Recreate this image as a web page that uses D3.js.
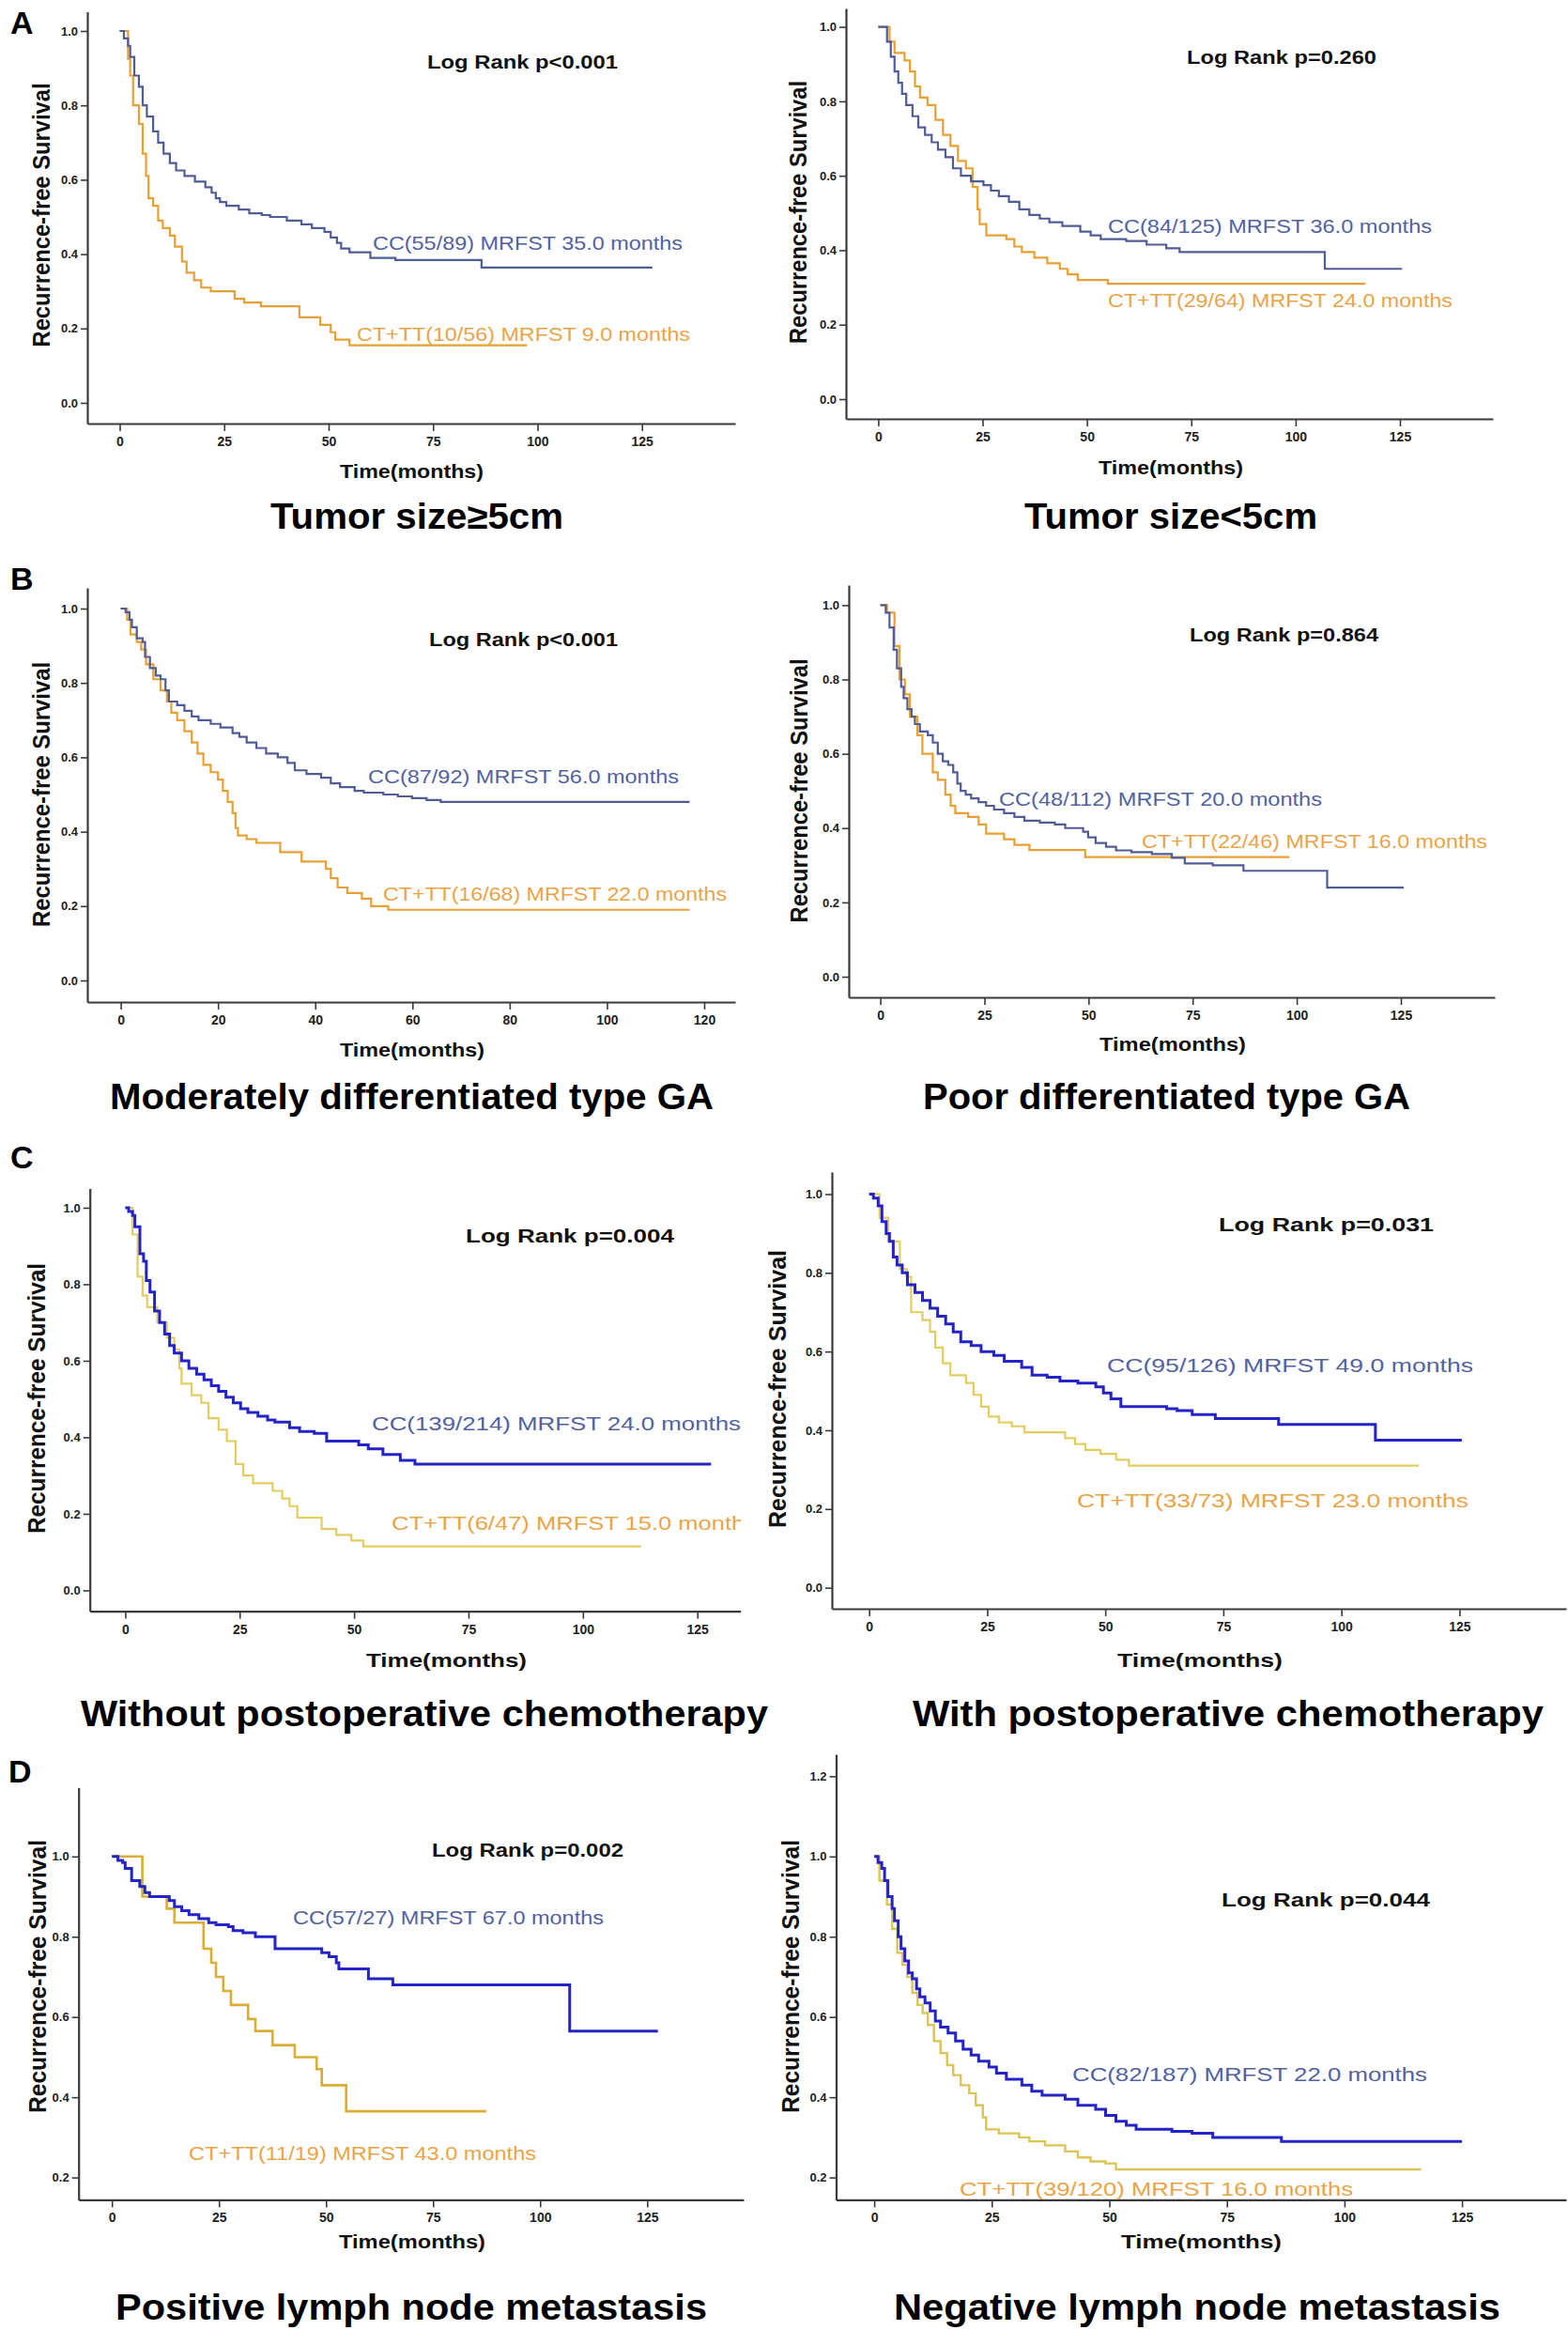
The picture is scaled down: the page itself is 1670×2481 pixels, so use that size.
<!DOCTYPE html>
<html>
<head>
<meta charset="utf-8">
<script src="https://cdn.jsdelivr.net/npm/d3@7"></script>
<style>
  html, body { margin: 0; padding: 0; background: #ffffff; }
  svg { display: block; font-family: "Liberation Sans", Arial, Helvetica, sans-serif; }
</style>
</head>
<body>
<svg id="chart" width="1670" height="2481"></svg>
<script>
// ---------------- DATA (months, recurrence-free survival) ----------------
const aLeftCC = [[0,1],[1,0.98],[2,0.96],[2.5,0.93],[3.5,0.88],[4.6,0.85],[5.5,0.80],[6.5,0.77],[8,0.73],[9.2,0.70],[10.5,0.67],[12,0.645],[13.5,0.625],[15.5,0.61],[18,0.595],[20.5,0.58],[22,0.565],[23,0.55],[24,0.54],[25.5,0.53],[28.5,0.52],[31,0.51],[34,0.505],[36,0.50],[40,0.49],[43.5,0.48],[46,0.47],[49,0.46],[50.5,0.445],[52,0.43],[53,0.415],[55,0.405],[60,0.39],[66,0.384],[86.6,0.364],[127.5,0.364]];
const aLeftCT = [[0,1],[2,0.925],[2.5,0.88],[3.2,0.80],[4.6,0.75],[5.5,0.67],[6.3,0.61],[6.9,0.55],[8,0.53],[9.2,0.49],[10.3,0.47],[12,0.45],[13.2,0.42],[14.9,0.38],[16,0.35],[17.8,0.33],[19.5,0.31],[21.8,0.30],[27.5,0.28],[29.8,0.27],[33.8,0.26],[43,0.23],[48,0.21],[50.5,0.19],[51.6,0.17],[55,0.155],[97.5,0.155]];
const aRightCC = [[0,1],[2.1,0.96],[3,0.92],[3.9,0.88],[4.8,0.85],[5.7,0.82],[6.7,0.79],[8.2,0.76],[9.6,0.73],[11.2,0.71],[12.8,0.69],[14.3,0.67],[16.1,0.65],[17.9,0.62],[19.8,0.60],[22.2,0.585],[25.2,0.575],[27,0.56],[28.9,0.545],[31.3,0.53],[33.8,0.51],[36.2,0.495],[38.7,0.485],[41,0.475],[44.1,0.465],[48.4,0.45],[50.9,0.44],[53.3,0.43],[59.4,0.425],[64.3,0.415],[69,0.405],[72.2,0.395],[107,0.35],[125.5,0.35]];
const aRightCT = [[0,1],[2.7,0.96],[3.9,0.93],[6.3,0.91],[7.6,0.88],[8.8,0.84],[10,0.81],[11.8,0.79],[13.7,0.75],[15.5,0.71],[17.3,0.68],[19.1,0.64],[21,0.62],[22.6,0.57],[23.8,0.51],[24.3,0.47],[25.9,0.44],[30.7,0.43],[32.6,0.41],[34.4,0.395],[37.4,0.38],[40.5,0.365],[43.5,0.35],[45.4,0.335],[47.8,0.32],[55,0.31],[116.7,0.31]];
const bLeftCC = [[0,1],[1,0.99],[1.8,0.97],[2.3,0.95],[3.3,0.92],[4.5,0.91],[5,0.87],[6,0.84],[7.2,0.82],[8.2,0.81],[9.2,0.78],[9.9,0.75],[11.6,0.74],[13.1,0.725],[14.6,0.71],[16,0.70],[18.5,0.69],[20.5,0.68],[23,0.665],[24.4,0.655],[25.9,0.64],[27.9,0.625],[29.9,0.61],[32.3,0.60],[34.3,0.585],[35.8,0.565],[38.2,0.555],[41.2,0.545],[43.2,0.53],[45.1,0.52],[48.1,0.51],[50,0.505],[54,0.50],[57,0.495],[59.9,0.49],[62.9,0.485],[65.8,0.48],[117,0.48]];
const bLeftCT = [[0,1],[1.3,0.97],[2,0.93],[3.3,0.91],[4.2,0.89],[5.2,0.85],[6.7,0.81],[8.2,0.78],[9.5,0.75],[10.4,0.72],[11.6,0.70],[13.1,0.67],[14.6,0.64],[15.8,0.61],[17,0.58],[18.5,0.56],[20,0.54],[21,0.51],[22,0.48],[23,0.45],[23.6,0.41],[24.1,0.39],[25.9,0.38],[27.9,0.37],[32.8,0.345],[37.2,0.32],[42.2,0.30],[43.2,0.275],[44.6,0.25],[46.6,0.235],[49.6,0.22],[51.5,0.20],[55,0.19],[117,0.19]];
const bRightCC = [[0,1],[1.3,0.98],[2.2,0.94],[3.2,0.88],[4,0.83],[5,0.78],[5.6,0.75],[6.5,0.72],[7.5,0.70],[8.3,0.68],[9.5,0.66],[11.4,0.65],[12.6,0.63],[13.8,0.60],[15,0.58],[16.3,0.57],[17.5,0.55],[18.5,0.52],[19.3,0.50],[20.5,0.49],[21.8,0.48],[23.6,0.47],[25.4,0.46],[27.3,0.45],[29.7,0.44],[32.2,0.43],[34.6,0.42],[38.3,0.415],[41.9,0.41],[44.4,0.40],[48.7,0.39],[49.9,0.375],[51.7,0.36],[54.2,0.35],[56.6,0.34],[60.3,0.335],[65.2,0.33],[70,0.32],[73.1,0.305],[79.8,0.30],[87.2,0.285],[107.3,0.24],[125.7,0.24]];
const bRightCT = [[0,1],[1.6,0.98],[3.4,0.89],[4.6,0.80],[5.9,0.76],[7.1,0.70],[8.9,0.65],[10.1,0.60],[12.6,0.55],[13.8,0.53],[15.6,0.49],[16.9,0.46],[18,0.44],[21.1,0.43],[23.6,0.41],[25.4,0.385],[29.7,0.37],[32.2,0.355],[35.8,0.341],[49.2,0.322],[98.2,0.322]];
const cLeftCC = [[0,1],[0.75,0.99],[1.6,0.98],[2.1,0.95],[3.2,0.88],[4,0.86],[4.6,0.81],[5.4,0.78],[6.4,0.73],[7.5,0.70],[8.6,0.67],[9.7,0.64],[10.7,0.62],[12.3,0.60],[13.9,0.58],[15.6,0.565],[17.2,0.55],[18.8,0.535],[20.4,0.52],[22,0.505],[23.6,0.49],[25.2,0.475],[26.8,0.465],[29,0.455],[31.1,0.445],[32.7,0.44],[35.9,0.425],[38.1,0.415],[41.3,0.41],[44,0.39],[51,0.38],[53.1,0.37],[56.3,0.355],[60.1,0.34],[63.3,0.33],[128,0.33]];
const cLeftCT = [[0,1],[1.6,0.93],[2.7,0.82],[3.8,0.77],[4.8,0.74],[7,0.70],[9.1,0.66],[10.7,0.63],[11.8,0.58],[12.3,0.54],[14.5,0.51],[16.6,0.49],[18.2,0.45],[20.4,0.42],[22.2,0.39],[24.1,0.33],[25.8,0.30],[27.9,0.28],[32.2,0.26],[34.3,0.24],[35.9,0.22],[37.6,0.19],[42.9,0.16],[46.1,0.145],[49.4,0.13],[52,0.115],[112.7,0.115]];
const cRightCC = [[0,1],[0.9,0.99],[1.9,0.97],[2.7,0.93],[3.6,0.90],[4.3,0.88],[5.1,0.84],[5.9,0.82],[7,0.80],[8.1,0.77],[9.7,0.75],[11.3,0.73],[12.9,0.71],[14.5,0.69],[16.2,0.67],[17.8,0.65],[19.4,0.625],[21.6,0.615],[23.7,0.60],[26.4,0.59],[28.6,0.575],[32.3,0.56],[34.5,0.54],[37.7,0.535],[40.4,0.525],[44.2,0.52],[48,0.51],[49.6,0.495],[51.2,0.48],[53.3,0.46],[63,0.455],[65.2,0.45],[68.4,0.44],[73.3,0.43],[86.7,0.415],[107.2,0.375],[125.5,0.375]];
const cRightCT = [[0,1],[2.2,0.94],[4,0.88],[6.5,0.81],[7.9,0.79],[8.9,0.70],[11.3,0.68],[12.9,0.65],[14,0.61],[15.6,0.57],[17.2,0.54],[20.5,0.52],[22.1,0.49],[23.7,0.46],[25.3,0.435],[27.5,0.42],[30.2,0.41],[32.9,0.395],[41.5,0.38],[43.6,0.365],[45.8,0.35],[49,0.34],[52.3,0.325],[55,0.31],[116.4,0.31]];
const dLeftCC = [[0,1],[1.4,0.99],[2.5,0.985],[3.1,0.97],[4.6,0.94],[6.5,0.925],[7.7,0.91],[8.8,0.90],[13.4,0.89],[14.6,0.875],[16.3,0.865],[18,0.855],[20.3,0.845],[22.6,0.835],[24.3,0.83],[27.2,0.825],[28.3,0.815],[30.6,0.81],[33.5,0.80],[38.1,0.77],[49,0.76],[50.7,0.75],[52.4,0.735],[53,0.72],[59.9,0.695],[65.6,0.68],[106.9,0.565],[127.5,0.565]];
const dLeftCT = [[0,1],[7.1,0.90],[12.8,0.87],[14.6,0.835],[21.4,0.77],[23.2,0.735],[24.3,0.70],[26,0.665],[27.8,0.63],[31.8,0.595],[33.5,0.565],[37.5,0.53],[42.7,0.50],[47.8,0.47],[49,0.43],[54.7,0.365],[87.4,0.365]];
const dRightCC = [[0,1],[0.8,0.985],[1.6,0.97],[2.2,0.94],[2.9,0.90],[3.8,0.87],[4.3,0.84],[5.1,0.80],[5.7,0.77],[6.5,0.74],[7.3,0.71],[8.1,0.695],[9,0.67],[9.7,0.65],[10.8,0.635],[11.9,0.615],[13,0.59],[14.1,0.575],[15.7,0.56],[17.3,0.54],[18.9,0.52],[20.6,0.505],[22.2,0.49],[24.4,0.475],[26,0.46],[28.1,0.445],[31.4,0.43],[33.5,0.415],[35.7,0.405],[40.6,0.395],[43.3,0.38],[47.1,0.37],[49.2,0.355],[51.4,0.34],[53.6,0.33],[55.7,0.32],[63.3,0.315],[67.6,0.31],[72,0.30],[86.6,0.29],[125,0.29]];
const dRightCT = [[0,1],[1.1,0.94],[2.7,0.88],[3.8,0.82],[4.9,0.76],[6,0.73],[7,0.70],[8.1,0.66],[9.2,0.63],[10.3,0.61],[11.4,0.58],[12.7,0.54],[14.1,0.51],[15.5,0.48],[16.8,0.455],[18.4,0.43],[20.2,0.41],[21.6,0.38],[23.1,0.35],[23.8,0.32],[26.5,0.31],[30.8,0.30],[33,0.29],[36.3,0.28],[40.6,0.265],[43.3,0.25],[46,0.24],[49.2,0.235],[51.4,0.22],[116.3,0.22]];

// tick values
const xTicks125 = [0, 25, 50, 75, 100, 125];
const xTicks120 = [0, 20, 40, 60, 80, 100, 120];
const yTicks10 = [0.0, 0.2, 0.4, 0.6, 0.8, 1.0];
const yTicksD = [0.2, 0.4, 0.6, 0.8, 1.0];
const yTicksD12 = [0.2, 0.4, 0.6, 0.8, 1.0, 1.2];

// texts
const panelLetters = ["A", "B", "C", "D"];
const titles = ["Tumor size≥5cm", "Tumor size<5cm", "Moderately differentiated type GA", "Poor differentiated type GA",
  "Without postoperative chemotherapy", "With postoperative chemotherapy", "Positive lymph node metastasis", "Negative lymph node metastasis"];
const logRanks = ["Log Rank p<0.001", "Log Rank p=0.260", "Log Rank p<0.001", "Log Rank p=0.864",
  "Log Rank p=0.004", "Log Rank p=0.031", "Log Rank p=0.002", "Log Rank p=0.044"];
const ccLabels = ["CC(55/89) MRFST 35.0 months", "CC(84/125) MRFST 36.0 months", "CC(87/92) MRFST 56.0 months", "CC(48/112) MRFST 20.0 months",
  "CC(139/214) MRFST 24.0 months", "CC(95/126) MRFST 49.0 months", "CC(57/27) MRFST 67.0 months", "CC(82/187) MRFST 22.0 months"];
const ctLabels = ["CT+TT(10/56) MRFST 9.0 months", "CT+TT(29/64) MRFST 24.0 months", "CT+TT(16/68) MRFST 22.0 months", "CT+TT(22/46) MRFST 16.0 months",
  "CT+TT(6/47) MRFST 15.0 months", "CT+TT(33/73) MRFST 23.0 months", "CT+TT(11/19) MRFST 43.0 months", "CT+TT(39/120) MRFST 16.0 months"];
const yTitle = "Recurrence-free Survival";
const xTitle = "Time(months)";

// ---------------- LAYOUT (pixels) ----------------
const layouts = [
  { ax: 93, yTop: 12.5, yBot: 451, xEnd: 783, tRef: 125, px0: 127.5, pxRef: 683.7, sA: 0, pyA: 429, sB: 1, pyB: 33,
    xt: xTicks125, yt: yTicks10, lr: [455, 658, 66], cc: [397, 727, 258], ct: [380, 735, 355], tm: [362, 515, 502],
    ti: [288, 600, 563], yl: [44, 229, 281], ccCol: "#505c96", ctCol: "#e8a033", ccW: 2.2, ctW: 2.2 },
  { ax: 901, yTop: 9, yBot: 446, xEnd: 1590, tRef: 125, px0: 935.4, pxRef: 1491, sA: 0, pyA: 425, sB: 1, pyB: 28.6,
    xt: xTicks125, yt: yTicks10, lr: [1264, 1466, 61], cc: [1180, 1525, 240], ct: [1180, 1547, 319], tm: [1170, 1324, 498],
    ti: [1091, 1403, 563], yl: [850, 226, 280], ccCol: "#505c96", ctCol: "#e8a033", ccW: 2.2, ctW: 2.2 },
  { ax: 93, yTop: 626, yBot: 1067, xEnd: 783, tRef: 120, px0: 128.6, pxRef: 750, sA: 0, pyA: 1044, sB: 1, pyB: 648,
    xt: xTicks120, yt: yTicks10, lr: [457, 658, 681], cc: [392, 723, 826], ct: [408, 774, 951], tm: [362, 516, 1118],
    ti: [117, 760, 1181], yl: [44, 846, 282], ccCol: "#505c96", ctCol: "#e8a033", ccW: 2.2, ctW: 2.2 },
  { ax: 904, yTop: 623, yBot: 1062, xEnd: 1592, tRef: 125, px0: 937.6, pxRef: 1492, sA: 0, pyA: 1040, sB: 1, pyB: 644.4,
    xt: xTicks125, yt: yTicks10, lr: [1267, 1468, 676], cc: [1064, 1408, 850], ct: [1216, 1584, 895], tm: [1171, 1327, 1112],
    ti: [983, 1502, 1181], yl: [851, 842, 281], ccCol: "#505c96", ctCol: "#e8a033", ccW: 2.2, ctW: 2.2 },
  { ax: 95.7, yTop: 1265.6, yBot: 1715.6, xEnd: 788.7, tRef: 125, px0: 133.4, pxRef: 742.7, sA: 0, pyA: 1693.4, sB: 1, pyB: 1286,
    xt: xTicks125, yt: yTicks10, lr: [496, 718, 1316], cc: [396, 789, 1515.6], ct: [417, 806, 1621], tm: [390, 561, 1768],
    ti: [86, 818, 1838], yl: [38.5, 1489, 288], ccCol: "#2424c6", ctCol: "#e4cd5e", ccW: 3, ctW: 2.2, clipX: 789 },
  { ax: 886, yTop: 1248, yBot: 1713, xEnd: 1668, tRef: 125, px0: 925.7, pxRef: 1554.4, sA: 0, pyA: 1690.6, sB: 1, pyB: 1271.5,
    xt: xTicks125, yt: yTicks10, lr: [1298, 1527, 1304], cc: [1179, 1569, 1453], ct: [1147, 1564, 1597], tm: [1190, 1366, 1768],
    ti: [972, 1644, 1838], yl: [828, 1479, 296], ccCol: "#2424c6", ctCol: "#e4cd5e", ccW: 3, ctW: 2.2 },
  { ax: 83.7, yTop: 1903.6, yBot: 2342.4, xEnd: 792, tRef: 125, px0: 119.2, pxRef: 689.3, sA: 0.2, pyA: 2318.6, sB: 1, pyB: 1976.8,
    xt: xTicks125, yt: yTicksD, lr: [460, 664, 1970], cc: [312, 643, 2041], ct: [201, 571, 2292], tm: [361, 517, 2387],
    ti: [123, 753, 2470], yl: [40, 2104.5, 291], ccCol: "#2424c6", ctCol: "#d9ad36", ccW: 3, ctW: 2.6 },
  { ax: 890.5, yTop: 1868, yBot: 2342.4, xEnd: 1668, tRef: 125, px0: 931.1, pxRef: 1557.1, sA: 0.2, pyA: 2318.6, sB: 1, pyB: 1976.8,
    xt: xTicks125, yt: yTicksD12, lr: [1301, 1523, 2023], cc: [1142, 1520, 2208.5], ct: [1022, 1441, 2330.5], tm: [1194, 1365, 2387],
    ti: [952, 1598, 2470], yl: [842, 2104.5, 291], ccCol: "#2424c6", ctCol: "#dcc455", ccW: 3, ctW: 2.4 }
];
const seriesData = [[aLeftCC, aLeftCT], [aRightCC, aRightCT], [bLeftCC, bLeftCT], [bRightCC, bRightCT],
  [cLeftCC, cLeftCT], [cRightCC, cRightCT], [dLeftCC, dLeftCT], [dRightCC, dRightCT]];
const letterPos = [[11, 36], [11, 628], [11, 1244], [9, 1898]];

const ccTextColor = "#52619f";
const ctTextColor = "#e9a447";
const axisColor = "#3a3a3a";

const svg = d3.select("#chart");
svg.append("rect").attr("width", 1670).attr("height", 2481).attr("fill", "#ffffff");

function fitText(g, str, x0, x1, cy, size, weight, color) {
  return g.append("text")
    .attr("x", x0).attr("y", cy)
    .attr("dominant-baseline", "central")
    .attr("font-size", size).attr("font-weight", weight)
    .attr("fill", color)
    .attr("textLength", x1 - x0).attr("lengthAdjust", "spacingAndGlyphs")
    .text(str);
}

layouts.forEach((L, i) => {
  const g = svg.append("g");
  // scales through reference points, then extended to the axis extents
  const x0 = d3.scaleLinear().domain([0, L.tRef]).range([L.px0, L.pxRef]);
  const y0 = d3.scaleLinear().domain([L.sA, L.sB]).range([L.pyA, L.pyB]);
  const x = d3.scaleLinear().domain([x0.invert(L.ax), x0.invert(L.xEnd)]).range([L.ax, L.xEnd]);
  const y = d3.scaleLinear().domain([y0.invert(L.yBot), y0.invert(L.yTop)]).range([L.yBot, L.yTop]);

  // axes
  const xAxis = g.append("g").attr("transform", `translate(0,${L.yBot})`)
    .call(d3.axisBottom(x).tickValues(L.xt).tickFormat(d3.format("d")).tickSize(8).tickSizeOuter(0).tickPadding(6));
  const yAxis = g.append("g").attr("transform", `translate(${L.ax},0)`)
    .call(d3.axisLeft(y).tickValues(L.yt).tickFormat(d3.format(".1f")).tickSize(7).tickSizeOuter(0).tickPadding(3));
  [xAxis, yAxis].forEach(a => {
    a.select(".domain").attr("stroke", axisColor).attr("stroke-width", 2.2);
    a.selectAll(".tick line").attr("stroke", axisColor).attr("stroke-width", 1.6);
    a.selectAll(".tick text").attr("fill", "#222").attr("font-weight", "bold")
      .attr("font-family", "'Liberation Sans Narrow','Arial Narrow','Liberation Sans',Arial,sans-serif");
  });
  xAxis.selectAll(".tick text").attr("font-size", 14);
  yAxis.selectAll(".tick text").attr("font-size", 13);

  // curves
  const line = d3.line().x(d => x(d[0])).y(d => y(d[1])).curve(d3.curveStepAfter);
  const [cc, ct] = seriesData[i];
  g.append("path").datum(ct).attr("d", line).attr("fill", "none")
    .attr("stroke", L.ctCol).attr("stroke-width", L.ctW).attr("stroke-linejoin", "miter");
  g.append("path").datum(cc).attr("d", line).attr("fill", "none")
    .attr("stroke", L.ccCol).attr("stroke-width", L.ccW).attr("stroke-linejoin", "miter");

  // texts
  fitText(g, logRanks[i], L.lr[0], L.lr[1], L.lr[2], 20, "bold", "#111");
  fitText(g, ccLabels[i], L.cc[0], L.cc[1], L.cc[2], 21, "normal", ccTextColor);
  const ctText = fitText(g, ctLabels[i], L.ct[0], L.ct[1], L.ct[2], 21, "normal", ctTextColor);
  if (L.clipX) {
    const id = "clip" + i;
    svg.append("clipPath").attr("id", id).append("rect")
      .attr("x", 0).attr("y", L.ct[2] - 30).attr("width", L.clipX).attr("height", 60);
    ctText.attr("clip-path", `url(#${id})`);
  }
  fitText(g, xTitle, L.tm[0], L.tm[1], L.tm[2], 20, "bold", "#111");

  g.append("text")
    .attr("transform", `translate(${L.yl[0]},${L.yl[1]}) rotate(-90)`)
    .attr("text-anchor", "middle").attr("dominant-baseline", "central")
    .attr("font-size", 25).attr("font-weight", "bold").attr("fill", "#111")
    .attr("textLength", L.yl[2]).attr("lengthAdjust", "spacingAndGlyphs")
    .text(yTitle);

  g.append("text")
    .attr("x", L.ti[0]).attr("y", L.ti[2])
    .attr("font-size", 38).attr("font-weight", "bold").attr("fill", "#000")
    .attr("textLength", L.ti[1] - L.ti[0]).attr("lengthAdjust", "spacingAndGlyphs")
    .text(titles[i]);
});

panelLetters.forEach((t, k) => {
  svg.append("text").attr("x", letterPos[k][0]).attr("y", letterPos[k][1])
    .attr("font-size", 34).attr("font-weight", "bold").attr("fill", "#000").text(t);
});
</script>
</body>
</html>
